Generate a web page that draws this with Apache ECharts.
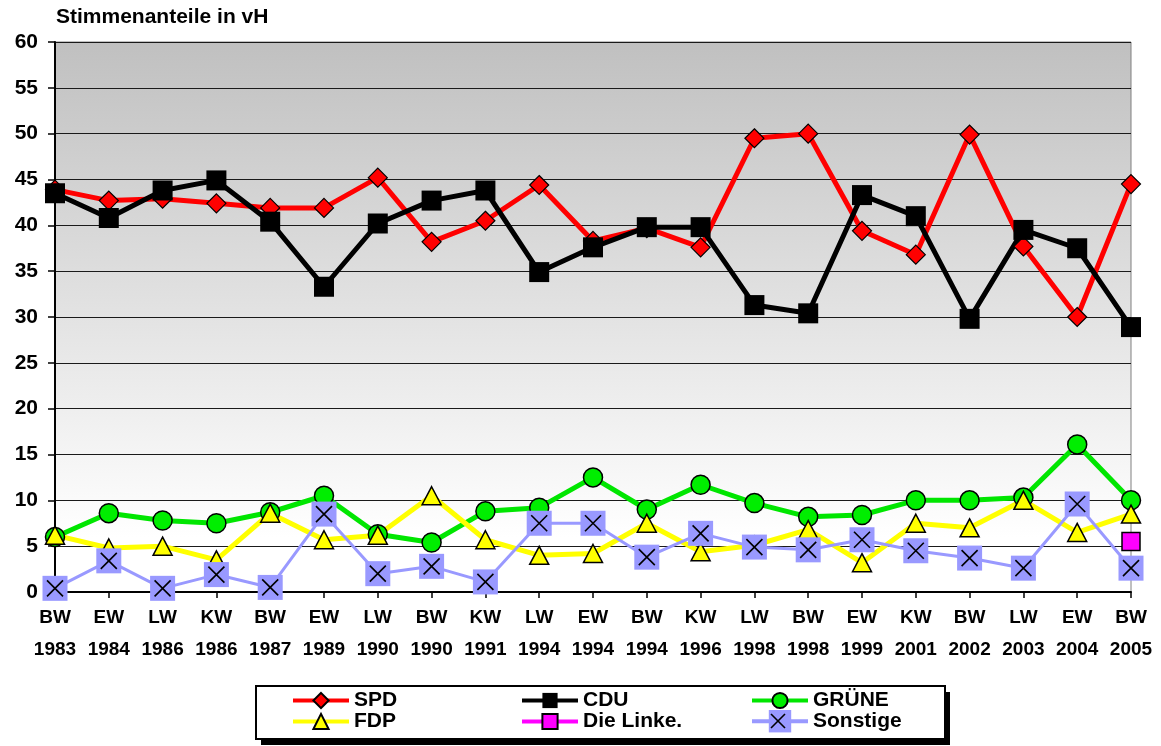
<!DOCTYPE html>
<html>
<head>
<meta charset="utf-8">
<script src="https://cdn.jsdelivr.net/npm/echarts@6/dist/echarts.min.js"></script>
<style>
html,body{margin:0;padding:0;background:#fff;}
#chart{width:1161px;height:746px;}
</style>
</head>
<body>
<div id="chart"></div>
<script>
const electionTypes = ['BW','EW','LW','KW','BW','EW','LW','BW','KW','LW','EW','BW','KW','LW','BW','EW','KW','BW','LW','EW','BW'];
const electionYears = ['1983','1984','1986','1986','1987','1989','1990','1990','1991','1994','1994','1994','1996','1998','1998','1999','2001','2002','2003','2004','2005'];
const yTicks = [0,5,10,15,20,25,30,35,40,45,50,55,60];

const spd      = [43.9, 42.7, 42.9, 42.4, 41.9, 41.9, 45.2, 38.2, 40.5, 44.4, 38.3, 39.7, 37.6, 49.5, 50.0, 39.4, 36.8, 49.9, 37.7, 30.0, 44.5];
const cdu      = [43.5, 40.8, 43.8, 44.9, 40.4, 33.3, 40.2, 42.7, 43.8, 34.9, 37.6, 39.8, 39.8, 31.3, 30.4, 43.3, 41.0, 29.8, 39.5, 37.5, 28.9];
const gruene   = [6.0, 8.6, 7.8, 7.5, 8.7, 10.5, 6.3, 5.4, 8.8, 9.2, 12.5, 9.0, 11.7, 9.7, 8.2, 8.4, 10.0, 10.0, 10.3, 16.1, 10.0];
const fdp      = [6.2, 4.8, 5.0, 3.5, 8.6, 5.7, 6.2, 10.5, 5.7, 4.0, 4.2, 7.5, 4.4, 5.1, 6.8, 3.2, 7.5, 7.0, 10.0, 6.5, 8.5];
const linke    = [null, null, null, null, null, null, null, null, null, null, null, null, null, null, null, null, null, null, null, null, 5.5];
const sonstige = [0.4, 3.4, 0.4, 1.9, 0.5, 8.5, 2.0, 2.8, 1.1, 7.5, 7.5, 3.8, 6.4, 4.9, 4.6, 5.7, 4.5, 3.7, 2.6, 9.6, 2.6];

const categories = electionTypes.map((t, i) => t + '\n' + electionYears[i]);

const FONT = '"Liberation Sans", Arial, Helvetica, sans-serif';
const xPath = 'path://M0,0L10,10M10,0L0,10';

function legendAt(name, left, top, itemHeight) {
  return {
    data: [name], left: left, top: top, z: 5,
    itemWidth: 56, itemHeight: itemHeight, padding: 0,
    selectedMode: false,
    lineStyle: { width: 4 },
    textStyle: { fontFamily: FONT, fontWeight: 'bold', fontSize: 21, color: '#000' }
  };
}

const chart = echarts.init(document.getElementById('chart'), null, { renderer: 'canvas' });
chart.setOption({
  animation: false,
  backgroundColor: '#fff',
  title: {
    text: 'Stimmenanteile in vH', left: 56, top: 7, padding: 0,
    textStyle: { fontFamily: FONT, fontWeight: 'bold', fontSize: 21, color: '#000' }
  },
  grid: {
    left: 55, right: 30, top: 42, bottom: 154, show: true,
    borderColor: '#808080', borderWidth: 1,
    backgroundColor: {
      type: 'linear', x: 0, y: 0, x2: 0, y2: 1,
      colorStops: [{ offset: 0, color: '#c0c0c0' }, { offset: 0.9, color: '#ffffff' }, { offset: 1, color: '#ffffff' }]
    }
  },
  xAxis: {
    type: 'category', data: categories, boundaryGap: false,
    axisLine: { lineStyle: { color: '#000', width: 2 } },
    axisTick: { alignWithLabel: true, length: 6, lineStyle: { color: '#000', width: 1.5 } },
    axisLabel: { interval: 0, margin: 10, fontFamily: FONT, fontWeight: 'bold', fontSize: 19, lineHeight: 32, color: '#000' },
    splitLine: { show: false }
  },
  yAxis: {
    type: 'value', min: yTicks[0], max: yTicks[yTicks.length - 1], interval: yTicks[1] - yTicks[0],
    axisLine: { show: true, lineStyle: { color: '#000', width: 2 } },
    axisTick: { show: true, length: 7, lineStyle: { color: '#000', width: 1.5 } },
    axisLabel: { margin: 17, fontFamily: FONT, fontWeight: 'bold', fontSize: 21, color: '#000' },
    splitLine: { lineStyle: { color: '#1a1a1a', width: 1 } }
  },
  legend: [
    legendAt('SPD', 291, 690, 19),
    legendAt('CDU', 520, 690, 19),
    legendAt('GRÜNE', 750, 690, 19),
    legendAt('FDP', 291, 711, 19),
    legendAt('Die Linke.', 520, 711, 19),
    legendAt('Sonstige', 750, 710, 28)
  ],
  graphic: [
    {
      type: 'rect', z: 1, silent: true,
      shape: { x: 261, y: 692, width: 689, height: 53 },
      style: { fill: '#000' }
    },
    {
      type: 'rect', z: 1, silent: true,
      shape: { x: 256, y: 686, width: 689, height: 53 },
      style: { fill: '#fff', stroke: '#000', lineWidth: 2 }
    },
    { type: 'line', z: 100, silent: true, shape: { x1: 771, y1: 714, x2: 785, y2: 728 }, style: { stroke: '#000', lineWidth: 1.6 } },
    { type: 'line', z: 100, silent: true, shape: { x1: 785, y1: 714, x2: 771, y2: 728 }, style: { stroke: '#000', lineWidth: 1.6 } }
  ],
  series: [
    {
      name: 'SPD', type: 'line', data: spd, symbol: 'diamond', symbolSize: 19,
      lineStyle: { color: '#ff0000', width: 5 },
      itemStyle: { color: '#ff0000', borderColor: '#000', borderWidth: 1.2 }
    },
    {
      name: 'CDU', type: 'line', data: cdu, symbol: 'rect', symbolSize: 20,
      lineStyle: { color: '#000000', width: 5 },
      itemStyle: { color: '#000000' }
    },
    {
      name: 'GRÜNE', type: 'line', data: gruene, symbol: 'circle', symbolSize: 19,
      lineStyle: { color: '#00e600', width: 5 },
      itemStyle: { color: '#00ee00', borderColor: '#000', borderWidth: 1.5 }
    },
    {
      name: 'FDP', type: 'line', data: fdp, symbol: 'triangle', symbolSize: [19, 18],
      lineStyle: { color: '#ffff00', width: 5 },
      itemStyle: { color: '#ffff00', borderColor: '#000', borderWidth: 1.5 }
    },
    {
      name: 'Die Linke.', type: 'line', data: linke, symbol: 'rect', symbolSize: 18,
      lineStyle: { color: '#ff00ff', width: 5 },
      itemStyle: { color: '#ff00ff', borderColor: '#000', borderWidth: 1.5 }
    },
    {
      name: 'Sonstige', type: 'line', data: sonstige, symbol: 'rect', symbolSize: 25,
      lineStyle: { color: '#9999ff', width: 3 },
      itemStyle: { color: '#9999ff' }
    },
    {
      name: 'Sonstige-X', type: 'line', data: sonstige, symbol: xPath, symbolSize: 16,
      silent: true,
      lineStyle: { width: 0, opacity: 0 },
      itemStyle: { color: 'rgba(0,0,0,0)', borderColor: '#000', borderWidth: 1.6 }
    }
  ]
});
</script>
</body>
</html>
